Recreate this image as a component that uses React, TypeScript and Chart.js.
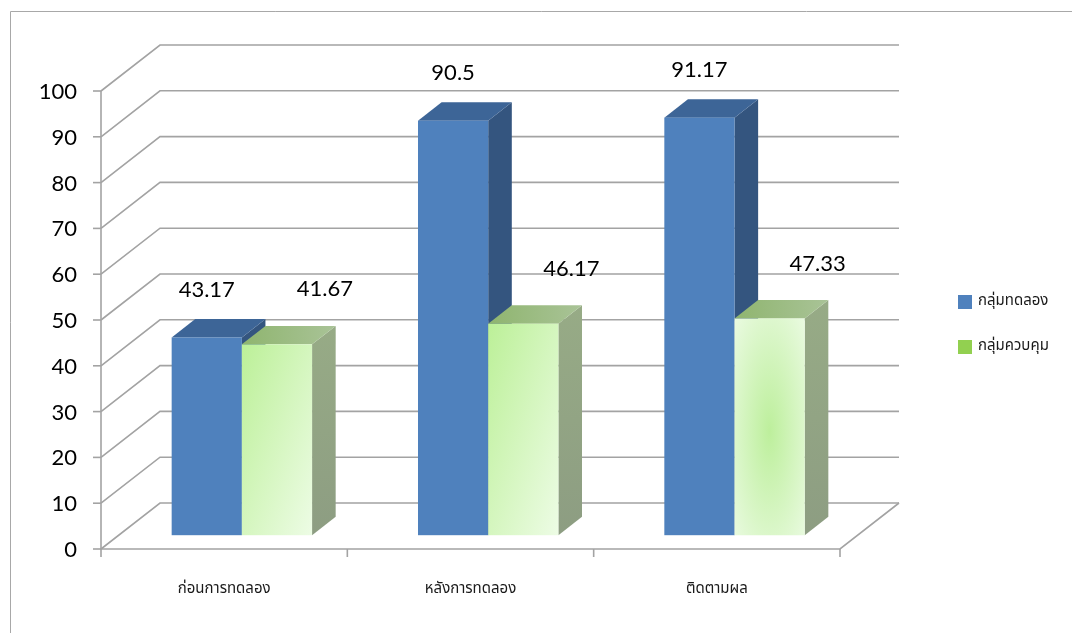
import React, { useEffect, useRef } from "react";
import { Chart, registerables } from "chart.js";

Chart.register(...registerables);

// ---- data ----
const categories = ["ก่อนการทดลอง", "หลังการทดลอง", "ติดตามผล"];
const seriesNames = ["กลุ่มทดลอง", "กลุ่มควบคุม"];
const experimentValues = [43.17, 90.5, 91.17];
const controlValues = [41.67, 46.17, 47.33];
const yTicks = [0, 10, 20, 30, 40, 50, 60, 70, 80, 90, 100];

// ---- styling ----
const W = 1072;
const H = 633;
const DEPTH_DX = 59; // oblique depth of the walls
const DEPTH_DY = -46;
const BAR_Z0 = 0.3; // bars sit between these depth fractions
const BAR_Z1 = 0.7;
const GRID = "#a3a3a3";
const NUM_FONT = '22px Lato, "Open Sans", sans-serif';
const THAI_FONT = '15px Tahoma, "Noto Sans Thai", "Noto Sans", "DejaVu Sans", sans-serif';
// fill style of the control-group front faces, per category
const controlFrontFill = ["linear", "linear", "radial"];

type Ctx = CanvasRenderingContext2D;
type SeriesStyle = {
  front: (ctx: Ctx, x: number, y: number, w: number, h: number, i: number) => void;
  side: (ctx: Ctx, x: number, y0: number, y1: number) => string | CanvasGradient;
  top: (ctx: Ctx, x0: number, x1: number, y: number) => string | CanvasGradient;
  legend: string;
  labelDx: number;
  labelDy: number;
};

function lin(ctx: Ctx, x0: number, y0: number, x1: number, y1: number, c0: string, c1: string) {
  const g = ctx.createLinearGradient(x0, y0, x1, y1);
  g.addColorStop(0, c0);
  g.addColorStop(1, c1);
  return g;
}

const seriesStyles: SeriesStyle[] = [
  {
    front: (ctx, x, y, w, h) => {
      ctx.fillStyle = "#4f81bd";
      ctx.fillRect(x, y, w, h);
    },
    side: () => "#34557f",
    top: () => "#3d6597",
    legend: "#4f81bd",
    labelDx: 0,
    labelDy: -48,
  },
  {
    front: (ctx, x, y, w, h, i) => {
      if (controlFrontFill[i] === "radial") {
        ctx.save();
        ctx.beginPath();
        ctx.rect(x, y, w, h);
        ctx.clip();
        const cx = x + w / 2;
        const cy = y + h * 0.52;
        const sy = h / w;
        ctx.translate(cx, cy);
        ctx.scale(1, sy);
        const g = ctx.createRadialGradient(0, 0, 0, 0, 0, w * 0.75);
        g.addColorStop(0, "#bdef9c");
        g.addColorStop(1, "#ecfbe4");
        ctx.fillStyle = g;
        ctx.fillRect(-w, -w, 2 * w, 2 * w);
        ctx.restore();
      } else {
        // diagonal gradient whose isolines run corner to corner
        const k = (2 * w * h) / (h * h + w * w);
        ctx.fillStyle = lin(ctx, x, y, x + h * k, y + w * k, "#bcf098", "#edfce5");
        ctx.fillRect(x, y, w, h);
      }
    },
    side: (ctx, x, y0, y1) => lin(ctx, x, y0, x, y1, "#97ab86", "#8d9d82"),
    top: (ctx, x0, x1, y) => lin(ctx, x0, y, x1, y, "#8fb56f", "#a9c397"),
    legend: "#92d050",
    labelDx: 48,
    labelDy: -55,
  },
];

const bar3dPlugin = {
  id: "bar3d",
  beforeDatasetsDraw(chart: any) {
    const { ctx, chartArea, scales } = chart;
    const xs = scales.x;
    const ys = scales.y;
    const { left, right, top, bottom } = chartArea;

    ctx.save();
    // outer frame
    ctx.strokeStyle = "#a8a8a8";
    ctx.lineWidth = 1;
    ctx.beginPath();
    ctx.moveTo(10.5, H);
    ctx.lineTo(10.5, 11.5);
    ctx.lineTo(W, 11.5);
    ctx.stroke();

    // side wall and back wall gridlines
    ctx.strokeStyle = GRID;
    ctx.lineWidth = 1.6;
    for (const v of yTicks) {
      const y = ys.getPixelForValue(v);
      ctx.beginPath();
      ctx.moveTo(left, y);
      ctx.lineTo(left + DEPTH_DX, y + DEPTH_DY);
      ctx.lineTo(right + DEPTH_DX, y + DEPTH_DY);
      ctx.stroke();
      // tick mark
      ctx.beginPath();
      ctx.moveTo(left - 8, y);
      ctx.lineTo(left, y);
      ctx.stroke();
    }
    // floor outline and vertical axis
    ctx.beginPath();
    ctx.moveTo(left, top);
    ctx.lineTo(left, bottom);
    ctx.lineTo(right, bottom);
    ctx.lineTo(right + DEPTH_DX, bottom + DEPTH_DY);
    ctx.stroke();

    // category tick marks
    const n = categories.length;
    for (let i = 0; i <= n; i++) {
      const x = left + ((right - left) * i) / n;
      ctx.beginPath();
      ctx.moveTo(x, bottom);
      ctx.lineTo(x, bottom + 8);
      ctx.stroke();
    }

    // y tick labels
    ctx.fillStyle = "#000";
    ctx.font = NUM_FONT;
    ctx.textAlign = "right";
    ctx.textBaseline = "middle";
    for (const v of yTicks) {
      ctx.fillText(String(v), left - 24, ys.getPixelForValue(v) + 1);
    }

    // category labels
    ctx.font = THAI_FONT;
    ctx.fillStyle = "#1a1a1a";
    ctx.textAlign = "center";
    categories.forEach((c, i) => {
      ctx.fillText(c, xs.getPixelForValue(i), bottom + 41);
    });
    ctx.restore();
  },
  afterDatasetsDraw(chart: any) {
    const { ctx, scales } = chart;
    const ys = scales.y;
    const base = ys.getPixelForValue(0);
    const fx = DEPTH_DX * BAR_Z0;
    const fy = DEPTH_DY * BAR_Z0;
    const bx = DEPTH_DX * BAR_Z1;
    const by = DEPTH_DY * BAR_Z1;

    ctx.save();
    const n = categories.length;
    for (let i = 0; i < n; i++) {
      chart.data.datasets.forEach((ds: any, di: number) => {
        const el = chart.getDatasetMeta(di).data[i];
        const st = seriesStyles[di];
        const x0 = el.x - el.width / 2;
        const x1 = el.x + el.width / 2;
        const t = ys.getPixelForValue(ds.data[i]);
        // side face
        ctx.fillStyle = st.side(ctx, x1 + fx, t + by, base + fy);
        ctx.beginPath();
        ctx.moveTo(x1 + fx, t + fy);
        ctx.lineTo(x1 + bx, t + by);
        ctx.lineTo(x1 + bx, base + by);
        ctx.lineTo(x1 + fx, base + fy);
        ctx.closePath();
        ctx.fill();
        // top face
        ctx.fillStyle = st.top(ctx, x0 + fx, x1 + bx, t + fy);
        ctx.beginPath();
        ctx.moveTo(x0 + fx, t + fy);
        ctx.lineTo(x1 + fx, t + fy);
        ctx.lineTo(x1 + bx, t + by);
        ctx.lineTo(x0 + bx, t + by);
        ctx.closePath();
        ctx.fill();
        // front face
        st.front(ctx, x0 + fx, t + fy, x1 - x0, base - t, i);
      });
    }

    // value labels
    ctx.font = NUM_FONT;
    ctx.fillStyle = "#000";
    ctx.textAlign = "center";
    ctx.textBaseline = "middle";
    chart.data.datasets.forEach((ds: any, di: number) => {
      const st = seriesStyles[di];
      chart.getDatasetMeta(di).data.forEach((el: any, i: number) => {
        const t = ys.getPixelForValue(ds.data[i]);
        ctx.fillText(String(ds.data[i]), el.x + fx + st.labelDx, t + fy + st.labelDy);
      });
    });

    // legend
    ctx.font = THAI_FONT;
    ctx.textAlign = "left";
    seriesNames.forEach((name, di) => {
      const y = 302 + di * 45;
      ctx.fillStyle = seriesStyles[di].legend;
      ctx.fillRect(958, y - 7, 14, 14);
      ctx.fillStyle = "#1a1a1a";
      ctx.fillText(name, 978, y);
    });
    ctx.restore();
  },
};

export default function App() {
  const ref = useRef<HTMLCanvasElement>(null);
  useEffect(() => {
    if (!ref.current) return;
    const chart = new Chart(ref.current, {
      type: "bar",
      data: {
        labels: categories,
        datasets: [
          { label: seriesNames[0], data: experimentValues, backgroundColor: "rgba(0,0,0,0)", categoryPercentage: 0.57, barPercentage: 1 },
          { label: seriesNames[1], data: controlValues, backgroundColor: "rgba(0,0,0,0)", categoryPercentage: 0.57, barPercentage: 1 },
        ],
      },
      options: {
        animation: false,
        responsive: false,
        devicePixelRatio: 1,
        layout: { padding: { left: 101, top: 91, right: W - 840, bottom: H - 549 } },
        plugins: { legend: { display: false }, tooltip: { enabled: false } },
        scales: {
          x: { display: false, offset: true },
          y: { display: false, min: 0, max: 100 },
        },
      },
      plugins: [bar3dPlugin],
    });
    return () => chart.destroy();
  }, []);
  return (
    <div style={{ position: "absolute", left: 0, top: 0, width: W, height: H, background: "#fff" }}>
      <canvas ref={ref} width={W} height={H} />
    </div>
  );
}
